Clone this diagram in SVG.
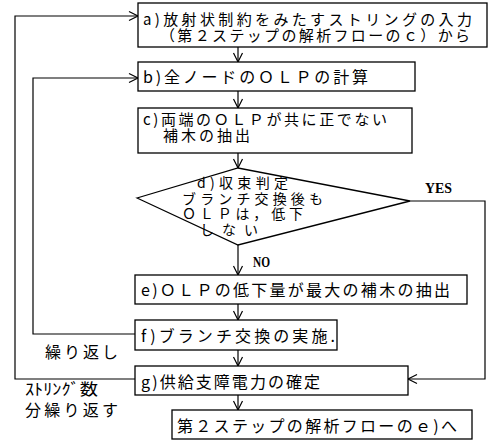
<svg xmlns="http://www.w3.org/2000/svg" width="495" height="440" viewBox="0 0 495 440">
<defs>
<marker id="arr" markerUnits="userSpaceOnUse" markerWidth="12" markerHeight="12" viewBox="0 0 12 12" refX="10" refY="6" orient="auto">
<path d="M1,1.5 L10,6 L1,10.5" fill="none" stroke="#000" stroke-width="1.2"/>
</marker>
<style>
.box{fill:#fff;stroke:#000;stroke-width:1.3}
.ln{fill:none;stroke:#000;stroke-width:1.2}
.t{font-family:"Noto Sans CJK JP","Noto Sans",sans-serif;font-size:16px;fill:#000}
.t2{font-family:"Noto Sans CJK JP","Noto Sans",sans-serif;font-size:15px;fill:#000}
.d{font-family:"Noto Sans CJK JP","Noto Sans",sans-serif;font-size:14px;fill:#000}
.yn{font-family:"Liberation Serif",serif;font-size:14px;font-weight:bold;fill:#000}
</style>
</defs>
<rect width="495" height="440" fill="#fff"/>
<g id="connectors">
<path class="ln" d="M238,47 V62" marker-end="url(#arr)"/>
<path class="ln" d="M238,91 V108" marker-end="url(#arr)"/>
<path class="ln" d="M238,153 V168" marker-end="url(#arr)"/>
<path class="ln" d="M238,245 V275" marker-end="url(#arr)"/>
<path class="ln" d="M238,304 V320" marker-end="url(#arr)"/>
<path class="ln" d="M238,350 V366" marker-end="url(#arr)"/>
<path class="ln" d="M238,395 V410" marker-end="url(#arr)"/>
<path class="ln" d="M410,201 H485 V379 H408" marker-end="url(#arr)"/>
<path class="ln" d="M135,334 H33 V78 H138" marker-end="url(#arr)"/>
<path class="ln" d="M135,379 H15 V16 H138" marker-end="url(#arr)"/>
<text class="yn" x="425" y="193" textLength="27" lengthAdjust="spacingAndGlyphs">YES</text>
<text class="yn" x="253" y="267" textLength="17" lengthAdjust="spacingAndGlyphs">NO</text>
<text class="t" x="45" y="358" textLength="73" lengthAdjust="spacing">繰り返し</text>
<text class="t" x="25" y="395" font-size="11" textLength="73" lengthAdjust="spacingAndGlyphs">ｽﾄﾘﾝｸﾞ数</text>
<text class="t" x="25" y="416" font-size="15" textLength="93" lengthAdjust="spacing">分繰り返す</text>
</g>
<g id="a">
<rect class="box" x="138" y="3" width="349" height="44"/>
<text class="t2" x="143" y="25" textLength="329" lengthAdjust="spacing">a)放射状制約をみたすストリングの入力</text>
<text class="t2" x="160" y="41" textLength="310" lengthAdjust="spacing">（第２ステップの解析フローのｃ）から</text>
</g>
<g id="b">
<rect class="box" x="138" y="62" width="277" height="29"/>
<text class="t" x="143" y="83" textLength="225" lengthAdjust="spacing">b)全ノードのＯＬＰの計算</text>
</g>
<g id="c">
<rect class="box" x="138" y="108" width="274" height="45"/>
<text class="t2" x="143" y="125" textLength="244" lengthAdjust="spacing">c)両端のＯＬＰが共に正でない</text>
<text class="t2" x="163" y="141" textLength="87" lengthAdjust="spacing">補木の抽出</text>
</g>
<g id="d">
<path class="box" d="M137,198 L238,168 L410,201 L238,245 Z"/>
<text class="d" x="197" y="188" textLength="91" lengthAdjust="spacing">d)収束判定</text>
<text class="d" x="182" y="203.5" textLength="141" lengthAdjust="spacing">ブランチ交換後も</text>
<text class="d" x="182" y="219" textLength="121" lengthAdjust="spacing">ＯＬＰは，低下</text>
<text class="d" x="200" y="234.5" textLength="58" lengthAdjust="spacing">しない</text>
</g>
<g id="e">
<rect class="box" x="135" y="275" width="332" height="29"/>
<text class="t" x="141" y="296" textLength="309" lengthAdjust="spacing">e)ＯＬＰの低下量が最大の補木の抽出</text>
</g>
<g id="f">
<rect class="box" x="135" y="320" width="202" height="30"/>
<text class="t" x="141" y="342" textLength="194" lengthAdjust="spacing">f)ブランチ交換の実施.</text>
</g>
<g id="g">
<rect class="box" x="135" y="366" width="273" height="29"/>
<text class="t" x="141" y="388" textLength="179" lengthAdjust="spacing">g)供給支障電力の確定</text>
</g>
<g id="h">
<rect class="box" x="172" y="410" width="300" height="29"/>
<text class="t" x="177" y="432" textLength="280" lengthAdjust="spacing">第２ステップの解析フローのｅ)へ</text>
</g>
</svg>
